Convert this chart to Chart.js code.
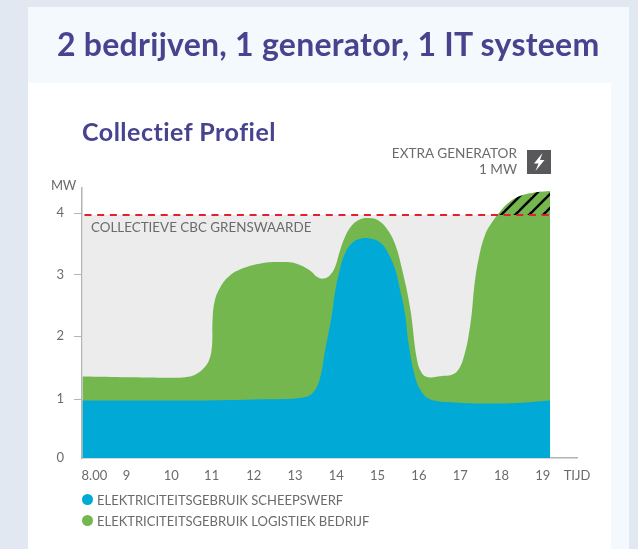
<!DOCTYPE html>
<html lang="nl">
<head>
<meta charset="utf-8">
<title>Collectief Profiel</title>
<script src="https://cdn.jsdelivr.net/npm/chart.js@4/dist/chart.umd.min.js"></script>
<style>
  html, body { margin: 0; padding: 0; }
  body { width: 638px; height: 549px; overflow: hidden; position: relative; background: #e1e8f2; font-family: Lato, sans-serif; color: #6b6b6b; }
  .panel { position: absolute; left: 28px; top: 7px; width: 601px; height: 542px; background: #f4f9fd; }
  .sheet { position: absolute; left: 28px; top: 83px; width: 583px; height: 466px; background: #fff; }
  canvas { position: absolute; left: 0; top: 0; }
  .txt { position: absolute; white-space: nowrap; line-height: 1; }
  #title { left: 57px; top: 28px; font-size: 32px; font-weight: 700; color: #47438f; letter-spacing: 0.26px; }
  #subtitle { left: 82px; top: 119px; font-size: 25px; font-weight: 700; color: #47438f; letter-spacing: 0.5px; }
  #extra1, #extra2 { right: 121px; font-size: 13.6px; }
  #extra1 { top: 147px; }
  #extra2 { top: 163px; }
  #limit-label { left: 91px; top: 221px; font-size: 13.4px; }
  #unit { left: 51px; top: 179px; font-size: 13px; letter-spacing: -0.4px; }
  #icon { position: absolute; left: 527px; top: 150px; width: 24px; height: 24px; }
  #legend { position: absolute; left: 82px; top: 489px; font-size: 13px; }
  #legend div { display: flex; align-items: center; height: 21px; }
  #legend i { display: block; width: 11px; height: 11px; border-radius: 50%; margin-right: 4px; }
</style>
</head>
<body>
<div class="panel"></div>
<div class="sheet"></div>
<canvas id="chart" width="638" height="549"></canvas>
<div class="txt" id="title">2 bedrijven, 1 generator, 1 IT systeem</div>
<div class="txt" id="subtitle">Collectief Profiel</div>
<div class="txt" id="extra1">EXTRA GENERATOR</div>
<div class="txt" id="extra2">1 MW</div>
<div class="txt" id="limit-label">COLLECTIEVE CBC GRENSWAARDE</div>
<div class="txt" id="unit">MW</div>
<svg id="icon" viewBox="0 0 24 24"><rect width="24" height="24" fill="#58585a"/><path d="M15.5 3 L7 13.5 h4.5 L8.5 21 L17.5 10 h-4.5 Z" fill="#fff"/></svg>
<div id="legend"></div>

<script>
// Hours and MW
const shipyardHours = [7.85, 10.62, 12.23, 13.2, 13.45, 13.61, 13.73, 13.89, 13.97, 14.09, 14.21, 14.38, 14.58, 14.78, 15.02, 15.22, 15.42, 15.54, 15.67, 15.75, 15.91, 16.07, 16.27, 16.76, 17.56, 18.37, 19.18];
const shipyardValues = [0.94, 0.94, 0.96, 0.99, 1.08, 1.32, 1.76, 2.33, 2.71, 3.09, 3.34, 3.51, 3.58, 3.59, 3.54, 3.39, 3.09, 2.76, 2.33, 1.87, 1.32, 1.08, 0.96, 0.91, 0.89, 0.9, 0.94];

// Top of the green area: both companies together
const totalHours = [7.85, 10.0, 10.34, 10.58, 10.78, 10.92, 10.99, 11.0, 11.05, 11.19, 11.43, 11.79, 12.2, 12.6, 13.0, 13.37, 13.53, 13.69, 13.85, 13.97, 14.09, 14.21, 14.38, 14.58, 14.8, 15.02, 15.22, 15.42, 15.59, 15.79, 15.95, 16.07, 16.23, 16.51, 16.84, 17.0, 17.12, 17.2, 17.28, 17.34, 17.44, 17.6, 17.8, 17.96, 18.17, 18.45, 18.85, 19.18];
const totalValues = [1.33, 1.31, 1.32, 1.36, 1.46, 1.6, 1.84, 2.22, 2.55, 2.79, 2.985, 3.11, 3.18, 3.2, 3.18, 3.06, 2.96, 2.93, 2.99, 3.12, 3.39, 3.61, 3.8, 3.9, 3.92, 3.88, 3.75, 3.5, 3.09, 2.44, 1.62, 1.39, 1.32, 1.335, 1.37, 1.49, 1.73, 1.98, 2.36, 2.79, 3.23, 3.64, 3.88, 4.02, 4.17, 4.28, 4.34, 4.36];

const limitHours = [7.85, 19.18];
const limitValues = [3.97, 3.97];

// Tick places follow the printed labels, which are not quite evenly spaced
const yTickValues = [0, 0.96, 1.99, 3, 4];
const yTickLabels = ['0', '1', '2', '3', '4'];
const xTickValues = [8.14, 8.92, 10, 10.98, 12, 13, 14, 15, 16, 17, 18, 19, 19.83];
const xTickLabels = ['8.00', '9', '10', '11', '12', '13', '14', '15', '16', '17', '18', '19', 'TIJD'];

const legendNames = ['ELEKTRICITEITSGEBRUIK SCHEEPSWERF', 'ELEKTRICITEITSGEBRUIK LOGISTIEK BEDRIJF'];
const legendColors = ['#00a9d6', '#75b74f'];

const AXIS_GREY = '#b4b4b4';
const LABEL_GREY = '#6b6b6b';

// Turns two parallel arrays into {x, y} points
function toPoints(xs, ys) {
  return xs.map((x, i) => ({ x, y: ys[i] }));
}

// Diagonal black hatch for the part above the limit
function makeHatch() {
  const size = 14;
  const tile = document.createElement('canvas');
  tile.width = size;
  tile.height = size;
  const g = tile.getContext('2d');
  g.strokeStyle = '#000';
  g.lineWidth = 2.4;
  [2, 16, 30].forEach(k => {
    g.beginPath();
    g.moveTo(k + 2, -2);
    g.lineTo(-2, k + 2);
    g.stroke();
  });
  return document.getElementById('chart').getContext('2d').createPattern(tile, 'repeat');
}

function renderLegend() {
  document.getElementById('legend').innerHTML = legendNames
    .map((name, i) => `<div><i style="background:${legendColors[i]}"></i>${name}</div>`)
    .join('');
}

function renderChart() {
  const area = { pointRadius: 0, pointHoverRadius: 0, borderWidth: 0, tension: 0.4 };
  const font = { family: 'Lato, sans-serif', size: 13 };

  new Chart(document.getElementById('chart'), {
    type: 'line',
    data: {
      datasets: [
        { ...area, label: 'Grenswaarde vlak', data: toPoints(limitHours, limitValues), fill: 'origin', backgroundColor: '#ececec', order: 5 },
        { ...area, label: 'Logistiek', data: toPoints(totalHours, totalValues), fill: 'origin', backgroundColor: legendColors[1], order: 4 },
        { ...area, label: 'Extra generator', data: toPoints(totalHours, totalValues), fill: { target: { value: limitValues[0] }, above: makeHatch(), below: 'rgba(0,0,0,0)' }, order: 3 },
        { ...area, label: 'Scheepswerf', data: toPoints(shipyardHours, shipyardValues), fill: 'origin', backgroundColor: legendColors[0], order: 2 },
        { label: 'Grenswaarde', data: toPoints([7.9, 19.24], limitValues), pointRadius: 0, borderColor: '#e3202e', borderWidth: 2, borderDash: [7, 5.7], fill: false, clip: false, order: 1 }
      ]
    },
    options: {
      responsive: false,
      animation: false,
      events: [],
      layout: { padding: { top: 188, right: 61, left: 0, bottom: 0 } },
      plugins: { legend: { display: false }, tooltip: { enabled: false } },
      scales: {
        x: {
          type: 'linear',
          min: 7.84,
          max: 19.83,
          afterFit: scale => { scale.height = 91; },
          afterBuildTicks: scale => { scale.ticks = xTickValues.map(value => ({ value })); },
          afterTickToLabelConversion: scale => { scale.ticks.forEach((t, i) => { t.label = xTickLabels[i]; }); },
          grid: { display: false, drawTicks: false },
          border: { display: true, color: AXIS_GREY, width: 1.5 },
          ticks: { color: LABEL_GREY, font, padding: 10, autoSkip: false, maxRotation: 0 }
        },
        y: {
          min: 0,
          max: 4.41,
          afterFit: scale => { scale.width = 82; },
          afterBuildTicks: scale => { scale.ticks = yTickValues.map(value => ({ value })); },
          afterTickToLabelConversion: scale => { scale.ticks.forEach((t, i) => { t.label = yTickLabels[i]; }); },
          grid: {
            drawOnChartArea: false,
            tickLength: 8,
            tickColor: ctx => (ctx.index === 0 ? 'rgba(0,0,0,0)' : AXIS_GREY)
          },
          border: { color: AXIS_GREY, width: 1.5 },
          ticks: { color: LABEL_GREY, font, padding: 10 }
        }
      }
    }
  });
}

renderLegend();
renderChart();
</script>
</body>
</html>
